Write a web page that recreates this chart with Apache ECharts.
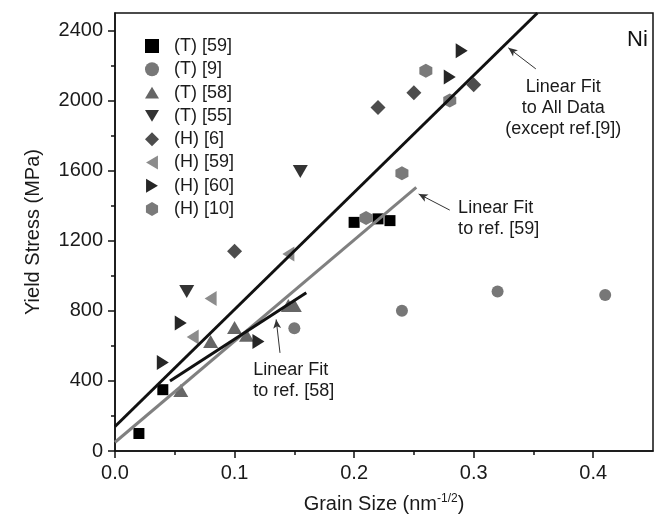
<!DOCTYPE html>
<html>
<head>
<meta charset="utf-8">
<script src="https://cdn.jsdelivr.net/npm/echarts@6/dist/echarts.min.js"></script>
<style>
  html, body { margin: 0; padding: 0; background: #fff; }
  #chart { width: 661px; height: 523px; }
</style>
</head>
<body>
<div id="chart"></div>
<script>
// data: [grain size, yield stress]
const t59 = [[0.02, 100], [0.04, 350], [0.2, 1305], [0.22, 1325], [0.23, 1315]]
const t9 = [[0.15, 700], [0.24, 800], [0.32, 910], [0.41, 890]]
const t58 = [[0.055, 345], [0.08, 625], [0.1, 705], [0.11, 660], [0.145, 830], [0.15, 830]]
const t55 = [[0.06, 910], [0.155, 1595]]
const h6 = [[0.1, 1140], [0.22, 1960], [0.25, 2045], [0.3, 2090]]
const h59 = [[0.065, 650], [0.08, 870], [0.145, 1125]]
const h60 = [[0.04, 505], [0.055, 730], [0.12, 625], [0.28, 2135], [0.29, 2285]]
const h10 = [[0.21, 1330], [0.24, 1585], [0.26, 2170], [0.28, 2000]]

// fit lines (end points)
const fitAll = [[0, 140], [0.3533, 2500]]
const fit59 = [[0, 50], [0.252, 1505]]
const fit58 = [[0.046, 400], [0.16, 903]]

const xTicks = [0, 0.1, 0.2, 0.3, 0.4]
const yTicks = [0, 400, 800, 1200, 1600, 2000, 2400]

const names = ['(T) [59]', '(T) [9]', '(T) [58]', '(T) [55]', '(H) [6]', '(H) [59]', '(H) [60]', '(H) [10]']

const chart = echarts.init(document.getElementById('chart'))
const FONT = 'Liberation Sans, Arial, sans-serif'

const shapes = [
  { data: t59, symbol: 'rect', size: [11, 11], color: '#000000' },
  { data: t9, symbol: 'circle', size: 12, color: '#777777' },
  { data: t58, symbol: 'path://M10,0 L20,17 L0,17 Z', size: [15, 13], color: '#666666' },
  { data: t55, symbol: 'path://M0,0 L20,0 L10,17 Z', size: [15, 13], color: '#333333' },
  { data: h6, symbol: 'path://M10,0 L20,10 L10,20 L0,10 Z', size: [15, 15], color: '#4d4d4d' },
  { data: h59, symbol: 'path://M17,0 L17,20 L0,10 Z', size: [12, 15], color: '#8c8c8c' },
  { data: h60, symbol: 'path://M0,0 L17,10 L0,20 Z', size: [12, 15], color: '#262626' },
  { data: h10, symbol: 'path://M8.66,0 L17.32,5 L17.32,15 L8.66,20 L0,15 L0,5 Z', size: [13, 14], color: '#7a7a7a' }
]

const series = shapes.map((s, i) => ({
  name: names[i],
  type: 'scatter',
  symbol: s.symbol,
  symbolSize: s.size,
  itemStyle: { color: s.color, opacity: 1 },
  data: s.data,
  z: 2
}))

function fitLine(data, color) {
  return {
    type: 'line',
    data: data,
    symbol: 'none',
    silent: true,
    lineStyle: { color: color, width: 3 },
    z: 5
  }
}

const arrowStyle = { color: '#333', width: 1, type: 'solid' }
const noteLabel = { fontFamily: FONT, fontSize: 18, color: '#1a1a1a', lineHeight: 21 }

series.push(fitLine(fitAll, '#111111'))
series.push(fitLine(fit59, '#808080'))
series.push(fitLine(fit58, '#111111'))

// annotations: arrows and texts, placed in data coordinates
series.push({
  type: 'scatter',
  data: [],
  silent: true,
  markLine: {
    silent: true,
    symbol: ['none', 'arrow'],
    symbolSize: [6, 9],
    lineStyle: arrowStyle,
    label: { show: false },
    data: [
      [{ coord: [0.352, 2181] }, { coord: [0.329, 2301] }],
      [{ coord: [0.28, 1375] }, { coord: [0.254, 1467] }],
      [{ coord: [0.138, 560] }, { coord: [0.1348, 751] }]
    ]
  },
  markPoint: {
    silent: true,
    symbol: 'circle',
    symbolSize: 0,
    data: [
      { coord: [0.375, 1958], label: Object.assign({ show: true, position: 'inside', align: 'center', verticalAlign: 'middle', formatter: 'Linear Fit\nto All Data\n(except ref.[9])' }, noteLabel) },
      { coord: [0.287, 1328], label: Object.assign({ show: true, position: 'inside', align: 'left', verticalAlign: 'middle', formatter: 'Linear Fit\nto ref. [59]' }, noteLabel) },
      { coord: [0.1156, 401], label: Object.assign({ show: true, position: 'inside', align: 'left', verticalAlign: 'middle', formatter: 'Linear Fit\nto ref. [58]' }, noteLabel) },
      { coord: [0.437, 2347], label: { show: true, position: 'inside', align: 'center', verticalAlign: 'middle', formatter: 'Ni', fontFamily: FONT, fontSize: 22, color: '#111' } }
    ]
  }
})

const option = {
  backgroundColor: '#fff',
  animation: false,
  grid: {
    left: 115,
    right: 8,
    top: 13,
    bottom: 72,
    show: true,
    borderColor: '#111',
    borderWidth: 1.5
  },
  legend: {
    data: names,
    orient: 'vertical',
    left: 140,
    top: 32,
    itemWidth: 14,
    itemHeight: 14,
    itemGap: 5.3,
    textStyle: { fontFamily: FONT, fontSize: 18, color: '#1a1a1a', lineHeight: 18, padding: [0, 0, 0, 10] }
  },
  xAxis: {
    type: 'value',
    min: 0,
    max: 0.45,
    interval: 0.1,
    name: 'Grain Size (nm{sup|-1/2})',
    nameLocation: 'middle',
    nameGap: 42,
    nameTextStyle: {
      fontFamily: FONT, fontSize: 20, color: '#1a1a1a',
      rich: { sup: { fontFamily: FONT, fontSize: 12, color: '#1a1a1a', verticalAlign: 'top', padding: [0, 0, 10, 0] } }
    },
    axisLine: { lineStyle: { color: '#111', width: 1.5 } },
    axisTick: { inside: false, length: 7, customValues: xTicks, lineStyle: { color: '#111', width: 1.5 } },
    minorTick: { show: true, splitNumber: 2, length: 4, lineStyle: { color: '#111', width: 1.5 } },
    splitLine: { show: false },
    axisLabel: {
      customValues: xTicks,
      margin: 12,
      fontFamily: FONT, fontSize: 20, color: '#1a1a1a',
      formatter: v => v.toFixed(1)
    }
  },
  yAxis: {
    type: 'value',
    min: 0,
    max: 2500,
    interval: 400,
    name: 'Yield Stress (MPa)',
    nameLocation: 'middle',
    nameGap: 72,
    nameTextStyle: { fontFamily: FONT, fontSize: 20, color: '#1a1a1a' },
    axisLine: { lineStyle: { color: '#111', width: 1.5 } },
    axisTick: { inside: false, length: 7, customValues: yTicks, lineStyle: { color: '#111', width: 1.5 } },
    minorTick: { show: true, splitNumber: 2, length: 4, lineStyle: { color: '#111', width: 1.5 } },
    splitLine: { show: false },
    axisLabel: {
      customValues: yTicks,
      margin: 12,
      fontFamily: FONT, fontSize: 20, color: '#1a1a1a',
      formatter: v => String(v)
    }
  },
  series: series
}

chart.setOption(option)
</script>
</body>
</html>
